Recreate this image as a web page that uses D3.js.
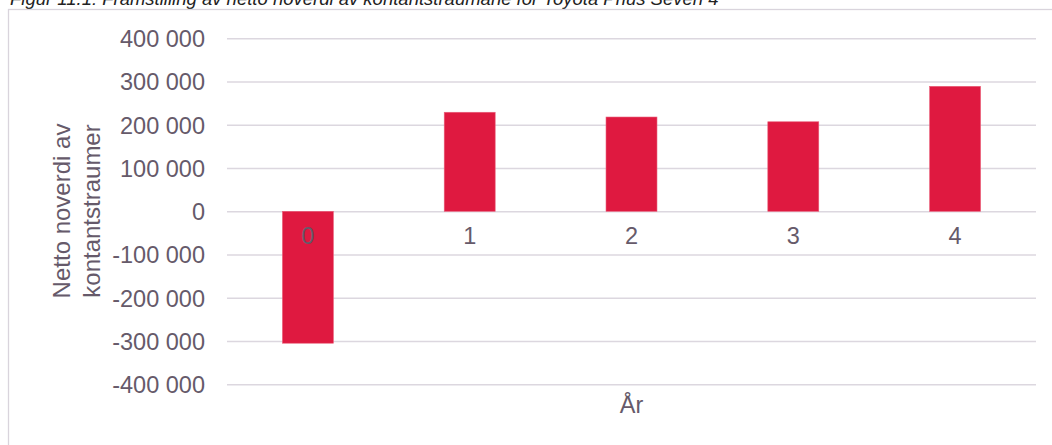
<!DOCTYPE html>
<html>
<head>
<meta charset="utf-8">
<script src="https://cdn.jsdelivr.net/npm/d3@7/dist/d3.min.js"></script>
<style>
  body { margin: 0; background: #fff; }
  svg text { font-family: "Liberation Sans", Arial, sans-serif; fill: #665a6a; }
</style>
</head>
<body>
<div id="chart"></div>
<script>
// chart data
var years = ['0', '1', '2', '3', '4'];
var npv = [-305000, 229000, 218000, 207000, 289000];
var yTicks = [400000, 300000, 200000, 100000, 0, -100000, -200000, -300000, -400000];

var W = 1052, H = 445
    , plot = {left: 227, right: 1036, top: 38.3, bottom: 384.3}

var svg = d3.select('#chart').append('svg')
    .attr('width', W)
    .attr('height', H)

// caption of the figure, clipped at the top edge like in the source
svg.append('text')
    .attr('x', 10)
    .attr('y', 4.5)
    .style('font-size', '18.5px')
    .style('font-style', 'italic')
    .style('fill', '#222')
    .text('Figur 11.1: Framstilling av netto noverdi av kontantstraumane for Toyota Prius Seven 4')

// chart area border (runs off the right and bottom)
svg.append('rect')
    .attr('x', 8.5)
    .attr('y', 9.5)
    .attr('width', W)
    .attr('height', H)
    .attr('fill', 'none')
    .attr('stroke', '#d9d4dc')
    .attr('stroke-width', 1.3)

var x = d3.scaleBand()
    .domain(years)
    .range([plot.left, plot.right])
    .paddingInner(0.685)
    .paddingOuter(0.3425)

var y = d3.scaleLinear()
    .domain([-400000, 400000])
    .range([plot.bottom, plot.top])

var fmt = function (d) {
    return d3.format(',')(d).replace(/,/g, ' ').replace('−', '-')
}

// gridlines + tick labels
var yAxis = d3.axisLeft(y)
    .tickValues(yTicks)
    .tickSize(-(plot.right - plot.left))
    .tickPadding(22)
    .tickFormat(fmt)

var gy = svg.append('g')
    .attr('transform', 'translate(' + plot.left + ',0)')
    .call(yAxis)
gy.select('.domain').remove()
gy.selectAll('.tick line').attr('stroke', '#dcd7df').attr('stroke-width', 1.5)
gy.selectAll('.tick text')
    .style('font-size', '23.5px')
    .style('fill', '#665a6a')
    .attr('dy', '0.35em')

// bars
svg.append('g').selectAll('rect')
    .data(npv)
    .enter().append('rect')
    .attr('x', function (d, i) { return x(years[i]) })
    .attr('width', x.bandwidth())
    .attr('y', function (d) { return y(Math.max(0, d)) })
    .attr('height', function (d) { return Math.abs(y(d) - y(0)) })
    .attr('fill', '#df1940')
    .attr('stroke', '#e9607a')
    .attr('stroke-width', 0.6)

// category labels sit just below the zero line (drawn over the bars)
var xAxis = d3.axisBottom(x).tickSize(0).tickPadding(16)
var gx = svg.append('g')
    .attr('transform', 'translate(0,' + y(0) + ')')
    .call(xAxis)
gx.select('.domain').remove()
gx.selectAll('.tick text')
    .style('font-size', '23.5px')
    .style('fill', '#665a6a')

// axis titles
svg.append('text')
    .attr('transform', 'translate(70,211) rotate(-90)')
    .attr('text-anchor', 'middle')
    .style('font-size', '24px')
    .text('Netto noverdi av')
svg.append('text')
    .attr('transform', 'translate(100,211) rotate(-90)')
    .attr('text-anchor', 'middle')
    .style('font-size', '24px')
    .text('kontantstraumer')

svg.append('text')
    .attr('x', (plot.left + plot.right) / 2)
    .attr('y', 413)
    .attr('text-anchor', 'middle')
    .style('font-size', '23.5px')
    .text('År')
</script>
</body>
</html>
